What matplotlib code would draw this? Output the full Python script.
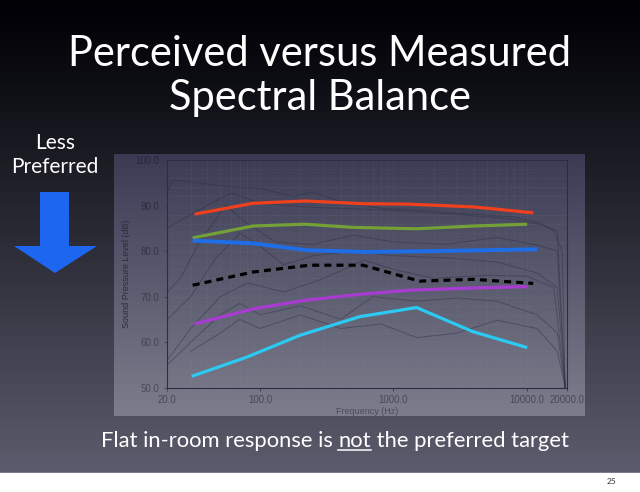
import matplotlib
matplotlib.use('Agg')
import matplotlib.pyplot as plt
import numpy as np
from matplotlib.patches import Polygon
from matplotlib.ticker import FixedLocator, LogLocator, NullFormatter, MultipleLocator

plt.rcParams['font.family'] = ['Lato', 'DejaVu Sans']

# Preference-rated target curves (frequency in Hz, level in dB)
red_f = [32, 88, 216, 600, 1320, 4000, 11200]
red_db = [88.1, 90.5, 91.0, 90.4, 90.3, 89.7, 88.4]

green_f = [31, 88, 216, 496, 1490, 4000, 10100]
green_db = [82.9, 85.5, 85.9, 85.2, 84.9, 85.5, 85.9]

blue_f = [31, 88, 222, 625, 1970, 5000, 12000]
blue_db = [82.3, 81.7, 80.2, 79.8, 80.0, 80.2, 80.4]

dash_f = [31, 88, 234, 590, 1570, 3960, 11200]
dash_db = [72.5, 75.4, 76.9, 76.9, 73.4, 73.8, 72.9]

purple_f = [32, 88, 216, 558, 1320, 4000, 10100]
purple_db = [64.0, 67.3, 69.2, 70.5, 71.4, 71.9, 72.2]

cyan_f = [30.5, 79, 198, 558, 1490, 3960, 10100]
cyan_db = [52.5, 56.7, 61.5, 65.6, 67.6, 62.3, 58.8]

# Faint measured in-room responses behind the targets
meas_f = [
    [20, 22, 31, 56, 100, 175, 250, 400, 800, 1500, 3000, 8000, 12000, 16000, 18500, 19500],
    [20, 28, 40, 60, 90, 150, 300, 600, 1200, 3000, 7000, 12000, 17000, 19500],
    [20, 25, 35, 55, 80, 130, 250, 500, 1000, 2500, 6000, 12000, 17000, 19500],
    [20, 30, 45, 70, 100, 150, 250, 500, 1000, 2500, 6000, 12000, 17000, 19500],
    [20, 30, 50, 80, 150, 300, 600, 1000, 2000, 5000, 10000, 16000, 19500],
    [20, 30, 50, 70, 100, 200, 400, 700, 1500, 3000, 6000, 12000, 17000, 19500],
    [30, 50, 70, 100, 200, 400, 800, 1500, 3000, 6000, 12000, 17000, 19500],
]
meas_db = [
    [93, 95.6, 95.2, 94.1, 93.8, 92, 93, 90.8, 89.4, 89, 88.3, 87.5, 86.4, 84.5, 80, 50],
    [85, 87.5, 90, 92.8, 91, 90, 89.5, 89.2, 88.8, 88.0, 87.2, 86.0, 84.5, 50],
    [71, 74, 82, 90, 86, 82, 81.5, 83.5, 82, 81.5, 83, 81.3, 80, 50],
    [65, 70, 78, 84, 81, 77, 79, 80, 79, 78.5, 77.6, 75.2, 72, 50],
    [56, 63, 70, 73, 71, 74, 78, 76, 74, 74.7, 74.5, 72, 50],
    [55, 60, 66, 68.5, 66, 68, 65, 70, 69, 69.7, 69, 66, 62, 50],
    [58, 62, 65, 63, 66, 63, 64, 61, 62, 64.8, 63, 58, 50],
]

x_ticks = [20, 100, 1000, 10000, 20000]
x_ticklabels = ['20.0', '100.0', '1000.0', '10000.0', '20000.0']
y_ticks = [50, 60, 70, 80, 90, 100]

W, H = 640, 492
fig = plt.figure(figsize=(W / 100, H / 100), dpi=100)

# Slide background: dark gradient, white footer strip
bg = fig.add_axes([0, 0, 1, 1], zorder=-10)
grad = np.linspace(0, 1, 256)[:, None]
top = np.array([0.0, 0.0, 0.02])
bot = np.array([0.36, 0.36, 0.43])
img = top + (bot - top) * grad[..., None] ** 1.1
bg.imshow(img, extent=[0, W, 473, 0], aspect='auto')
bg.add_patch(plt.Rectangle((0, 473), W, H - 473, color='white'))
bg.set_xlim(0, W)
bg.set_ylim(H, 0)
bg.axis('off')

# Screenshot panel behind the chart
panel = fig.add_axes([114 / W, 1 - 416 / H, 471 / W, 262 / H], zorder=-5)
ptop = np.array([0.23, 0.23, 0.33])
pbot = np.array([0.49, 0.49, 0.55])
pimg = ptop + (pbot - ptop) * grad[..., None]
panel.imshow(pimg, extent=[0, 1, 0, 1], aspect='auto')
panel.axis('off')

ax = fig.add_axes([167.3 / W, 1 - 387.7 / H, 399.4 / W, 227.7 / H])
ax.patch.set_alpha(0)
ax.set_xscale('log')
ax.set_xlim(20, 20000)
ax.set_ylim(50, 100)

for f, db in zip(meas_f, meas_db):
    ax.plot(f, db, color='#2c2e42', lw=0.7, alpha=0.45)

lw = 2.3
ax.plot(red_f, red_db, color='#f0401e', lw=lw, solid_capstyle='butt')
ax.plot(green_f, green_db, color='#74a038', lw=lw, solid_capstyle='butt')
ax.plot(blue_f, blue_db, color='#1e6ee8', lw=lw + 0.5, solid_capstyle='butt')
ax.plot(dash_f, dash_db, color='black', lw=lw, ls=(0, (2.2, 1.6)))
ax.plot(purple_f, purple_db, color='#a83cd0', lw=lw, solid_capstyle='butt')
ax.plot(cyan_f, cyan_db, color='#2ccaf2', lw=lw, solid_capstyle='butt')

ax.xaxis.set_major_locator(FixedLocator(x_ticks))
ax.set_xticklabels(x_ticklabels)
ax.xaxis.set_minor_locator(LogLocator(base=10, subs=np.arange(2, 10)))
ax.xaxis.set_minor_formatter(NullFormatter())
ax.set_yticks(y_ticks)
ax.set_yticklabels([f'{v:.1f}' for v in y_ticks])
ax.yaxis.set_minor_locator(MultipleLocator(2))

ax.tick_params(which='both', colors='#3a3a4c', labelsize=7, length=2, width=0.6)
ax.tick_params(which='minor', length=0)
for lab in ax.get_xticklabels():
    lab.set_family(['Liberation Sans'])
    lab.set_color('#484858')
# y labels get darker towards the top, like the screenshot
for v, lab in zip(y_ticks, ax.get_yticklabels()):
    lab.set_family(['Liberation Sans'])
    k = (v - 50) / 50
    c = np.array([0.29, 0.29, 0.35]) * (1 - k) + np.array([0.15, 0.15, 0.22]) * k
    lab.set_color(c)
ax.grid(which='both', color='#9a9cb0', lw=0.4, alpha=0.3, ls=':')
for s in ax.spines.values():
    s.set_color('#2c2e40')
    s.set_linewidth(0.8)
ax.set_xlabel('Frequency (Hz)', fontsize=6.5, color='#4a4a5c', family=['Liberation Sans'], labelpad=1)
ax.set_ylabel('Sound Pressure Level (dB)', fontsize=6.5, color='#2c2c3e', family=['Liberation Sans'], labelpad=3)

# Slide texts
fig.text(0.5, 1 - 76 / H, 'Perceived versus Measured\nSpectral Balance', ha='center', va='center',
         color='white', fontsize=30, linespacing=1.18)
fig.text(55 / W, 1 - 155 / H, 'Less\nPreferred', ha='center', va='center', color='white',
         fontsize=15, linespacing=1.2)

# Blue "less preferred" arrow
arrow_pts = np.array([[40, 192], [69, 192], [69, 246], [97, 246], [55, 273], [14, 246], [40, 246]])
fig.patches.append(Polygon(np.column_stack([arrow_pts[:, 0] / W, 1 - arrow_pts[:, 1] / H]),
                           closed=True, transform=fig.transFigure, facecolor='#1c66f0',
                           edgecolor='none'))

# Caption with underlined "not"
parts = ['Flat in-room response is ', 'not', ' the preferred target']
cap_kw = dict(color='white', fontsize=15.8, va='baseline')
renderer = fig.canvas.get_renderer()
widths = []
for p in parts:
    t = fig.text(0, 0, p.replace(' ', '\u00a0'), **cap_kw)
    widths.append(t.get_window_extent(renderer).width)
    t.remove()
total = sum(widths)
x0 = 335 - total / 2
base_y = 1 - 447 / H
for p, w in zip(parts, widths):
    fig.text(x0 / W, base_y, p.replace(' ', '\u00a0'), **cap_kw)
    if p == 'not':
        fig.lines.append(plt.Line2D([x0 / W, (x0 + w) / W], [base_y - 3 / H] * 2,
                                    transform=fig.transFigure, color='white', lw=1.1))
    x0 += w

fig.text(612 / W, 1 - 481 / H, '25', ha='center', va='center', fontsize=6, color='#333333')

fig.savefig('out.png', dpi=100)
